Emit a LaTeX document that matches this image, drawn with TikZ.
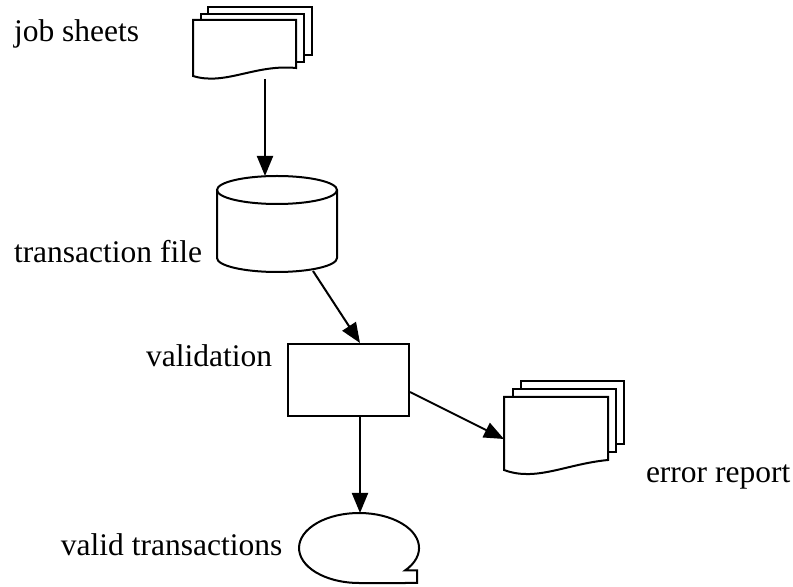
\documentclass[tikz,border=0pt]{standalone}
\usepackage{fontspec}
\setmainfont{Liberation Serif}
\usetikzlibrary{arrows.meta}
\begin{document}
\begin{tikzpicture}
  [
  x=0.5pt, y=-0.5pt,
  font=\fontsize{15.75}{19}\selectfont, line width=1pt,
  caption/.style={inner sep=0pt},
  procbox/.style={rectangle, inner sep=0pt, minimum width=60.5pt, minimum height=36pt, draw=black},
  flow/.style={-{Triangle[length=10pt, width=8pt]}}
  ]
\useasboundingbox (0,0) rectangle (793,587);

% job sheets
\draw (208,14) -- (208,7) -- (312,7) -- (312,55) -- (304,55);
\draw (201,20) -- (201,14) -- (304,14) -- (304,62) -- (296,62);
\draw (193,20) -- (193,76) .. controls (225,86) and (255,64) .. (296,68) -- (296,20) -- cycle;
\coordinate (jobs out) at (265,79);

% transaction file
\draw (217,190) -- (217,258) arc[start angle=180, end angle=360, x radius=30pt, y radius=7pt] -- (337,190);
\draw (277,190) ellipse [x radius=30pt, y radius=7pt];
\coordinate (file in) at (265,176);
\coordinate (file out) at (313,271);

% validation
\node[procbox] (check) at (348.5,380) {};

% error report
\draw (521,389) -- (521,381) -- (624,381) -- (624,444) -- (616,444);
\draw (513,397) -- (513,389) -- (616,389) -- (616,452) -- (608,452);
\draw (504,397) -- (504,470) .. controls (536,482) and (566,464) .. (608,460) -- (608,397) -- cycle;
\coordinate (report in) at (504,439);

% valid transactions
\draw (405,570.5) arc[start angle=-40, end angle=270, x radius=30pt, y radius=17.5pt] -- (417,583) -- (417,570.5) -- cycle;
\coordinate (display in) at (360,513);

\node[caption, anchor=base west] (jobs) at (13,42) {job sheets};
\node[caption, anchor=base west] (file) at (13,263) {transaction file};
\node[caption, anchor=base east] (validation) at (273,367) {validation};
\node[caption, anchor=base west] (report) at (645,483) {error report};
\node[caption, anchor=base west] (display) at (60,556) {valid transactions};

\draw[flow] (jobs out) -- (file in);
\draw[flow] (file out) -- ([xshift=5.75pt]check.north);
\draw[flow] ([xshift=5.75pt]check.south) -- (display in);
\draw[flow] ([yshift=-6pt]check.east) -- (report in);
\end{tikzpicture}
\end{document}
